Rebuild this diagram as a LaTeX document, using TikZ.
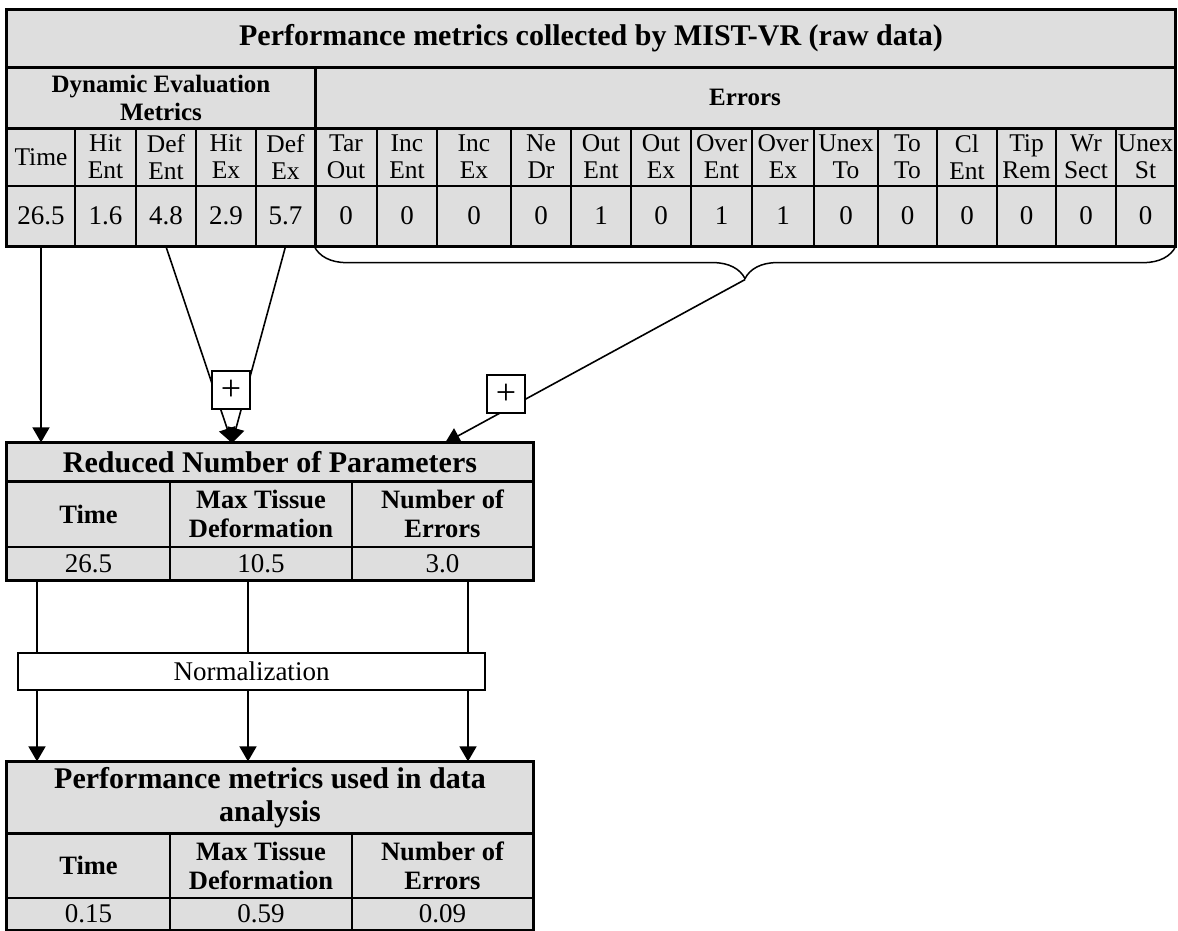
\documentclass[tikz,border=0pt]{standalone}
\usepackage{fontspec}
\setmainfont{Liberation Serif}
\usepackage{xcolor}
\usetikzlibrary{arrows.meta,decorations.pathreplacing,calc}
\definecolor{cellgray}{gray}{0.87}
\newcommand{\tblTitle}{\fontsize{30}{33}\selectfont\bfseries}
\newcommand{\tblHead}{\fontsize{26.5}{29}\selectfont\bfseries}
\newcommand{\tblLabel}{\fontsize{25.5}{27}\selectfont}
\newcommand{\tblValue}{\fontsize{27}{29}\selectfont}

\begin{document}
\begin{tikzpicture}[x=1pt,y=-1pt,
    cell/.style={draw=black,fill=cellgray,line width=1.2pt,inner sep=0pt,align=center},
    border/.style={line width=3.5pt},
    arr/.style={line width=1.6pt,-{Triangle[length=15pt,width=17pt]}},
    plusbox/.style={draw=black,fill=white,line width=1.2pt,minimum width=38pt,minimum height=38pt,inner sep=0pt,font=\fontsize{36}{36}\selectfont}]
    \useasboundingbox (0,0) rectangle (1178,931);

    % raw data table
    \node[cell,minimum width=1168pt,minimum height=57pt,font=\tblTitle] (raw) at (591,38.5) {Performance metrics collected by MIST-VR (raw data)};
    \node[cell,minimum width=308pt,minimum height=61pt,font=\fontsize{25}{28}\selectfont\bfseries] (dyn) at (161,97.5) {Dynamic Evaluation\\Metrics};
    \node[cell,minimum width=860pt,minimum height=61pt,font=\fontsize{25}{28}\selectfont\bfseries] (err) at (745,97.5) {Errors};
    \foreach \xa/\xb/\lab/\val [count=\i] in {7/75/Time/26.5, 75/136/{Hit\\Ent}/1.6, 136/196/{Def\\Ent}/4.8,
        196/256/{Hit\\Ex}/2.9, 256/315/{Def\\Ex}/5.7, 315/377/{Tar\\Out}/0, 377/437/{Inc\\Ent}/0,
        437/511/{Inc\\Ex}/0, 511/571/{Ne\\Dr}/0, 571/631/{Out\\Ent}/1, 631/691/{Out\\Ex}/0,
        691/752/{Over\\Ent}/1, 752/814/{Over\\Ex}/1, 814/878/{Unex\\To}/0, 878/937/{To\\To}/0,
        937/997/{Cl\\Ent}/0, 997/1056/{Tip\\Rem}/0, 1056/1116/{Wr\\Sect}/0, 1116/1175/{Unex\\St}/0}
    {
        \node[cell,minimum width={(\xb-\xa)*1pt},minimum height=58pt,font=\tblLabel] (h\i) at ({(\xa+\xb)/2},157) {\lab};
        \node[cell,minimum width={(\xb-\xa)*1pt},minimum height=60pt,font=\tblValue] (v\i) at ({(\xa+\xb)/2},216) {\val};
    }
    \draw[border] (raw.north west) rectangle (v19.south east);
    \draw[line width=3pt] (raw.south west) -- (raw.south east);
    \draw[line width=3pt] (dyn.south west) -- (err.south east);
    \draw[line width=3pt] (dyn.north east) -- (v5.south east);

    % brace under the errors
    \draw[decorate,decoration={brace,mirror,amplitude=32pt},line width=1.5pt] (v6.south west) -- (v19.south east);
    \coordinate (brtip) at ($(v6.south west)!0.5!(v19.south east)+(0,33)$);

    % reduced table
    \node[cell,minimum width=526pt,minimum height=38pt,font=\tblTitle] (red) at (270,462) {Reduced Number of Parameters};
    \foreach \xa/\xb/\lab/\val [count=\i] in {7/170/Time/26.5, 170/352/{Max Tissue\\Deformation}/10.5, 352/533/{Number of\\Errors}/3.0}
    {
        \node[cell,minimum width={(\xb-\xa)*1pt},minimum height=66pt,font=\tblHead] (rh\i) at ({(\xa+\xb)/2},514) {\lab};
        \node[cell,minimum width={(\xb-\xa)*1pt},minimum height=33pt,font=\tblValue] (rv\i) at ({(\xa+\xb)/2},563.5) {\val};
    }
    \draw[border] (red.north west) rectangle (rv3.south east);
    \draw[line width=3pt] (red.south west) -- (red.south east);

    \coordinate (defin) at (232,443);
    \coordinate (errin) at (445,443);
    \draw[arr] (v1.south) -- (v1.south |- red.north);
    \draw[arr] (v3.south) -- (defin);
    \draw[arr] (v5.south) -- (defin);
    \draw[arr] (brtip) -- (errin);
    \node[plusbox] (plus1) at (231,390) {+};
    \node[plusbox] (plus2) at (506,394) {+};

    % normalization
    \node[draw=black,fill=white,line width=1.2pt,minimum width=467pt,minimum height=37pt,font=\tblValue] (norm) at (251.5,671.5) {Normalization};

    % table used in data analysis
    \node[cell,minimum width=526pt,minimum height=71pt,font=\tblTitle] (used) at (270,797.5) {Performance metrics used in data\\analysis};
    \foreach \xa/\xb/\lab/\val [count=\i] in {7/170/Time/0.15, 170/352/{Max Tissue\\Deformation}/0.59, 352/533/{Number of\\Errors}/0.09}
    {
        \node[cell,minimum width={(\xb-\xa)*1pt},minimum height=65pt,font=\tblHead] (uh\i) at ({(\xa+\xb)/2},865.5) {\lab};
        \node[cell,minimum width={(\xb-\xa)*1pt},minimum height=32pt,font=\tblValue] (uv\i) at ({(\xa+\xb)/2},914) {\val};
    }
    \draw[border] (used.north west) rectangle (uv3.south east);
    \draw[line width=3pt] (used.south west) -- (used.south east);

    \foreach \x in {37,248,468} {
        \draw[line width=1.6pt] (\x,0 |- rv1.south) -- (\x,0 |- norm.north);
        \draw[arr] (\x,0 |- norm.south) -- (\x,0 |- used.north);
    }
\end{tikzpicture}
\end{document}
